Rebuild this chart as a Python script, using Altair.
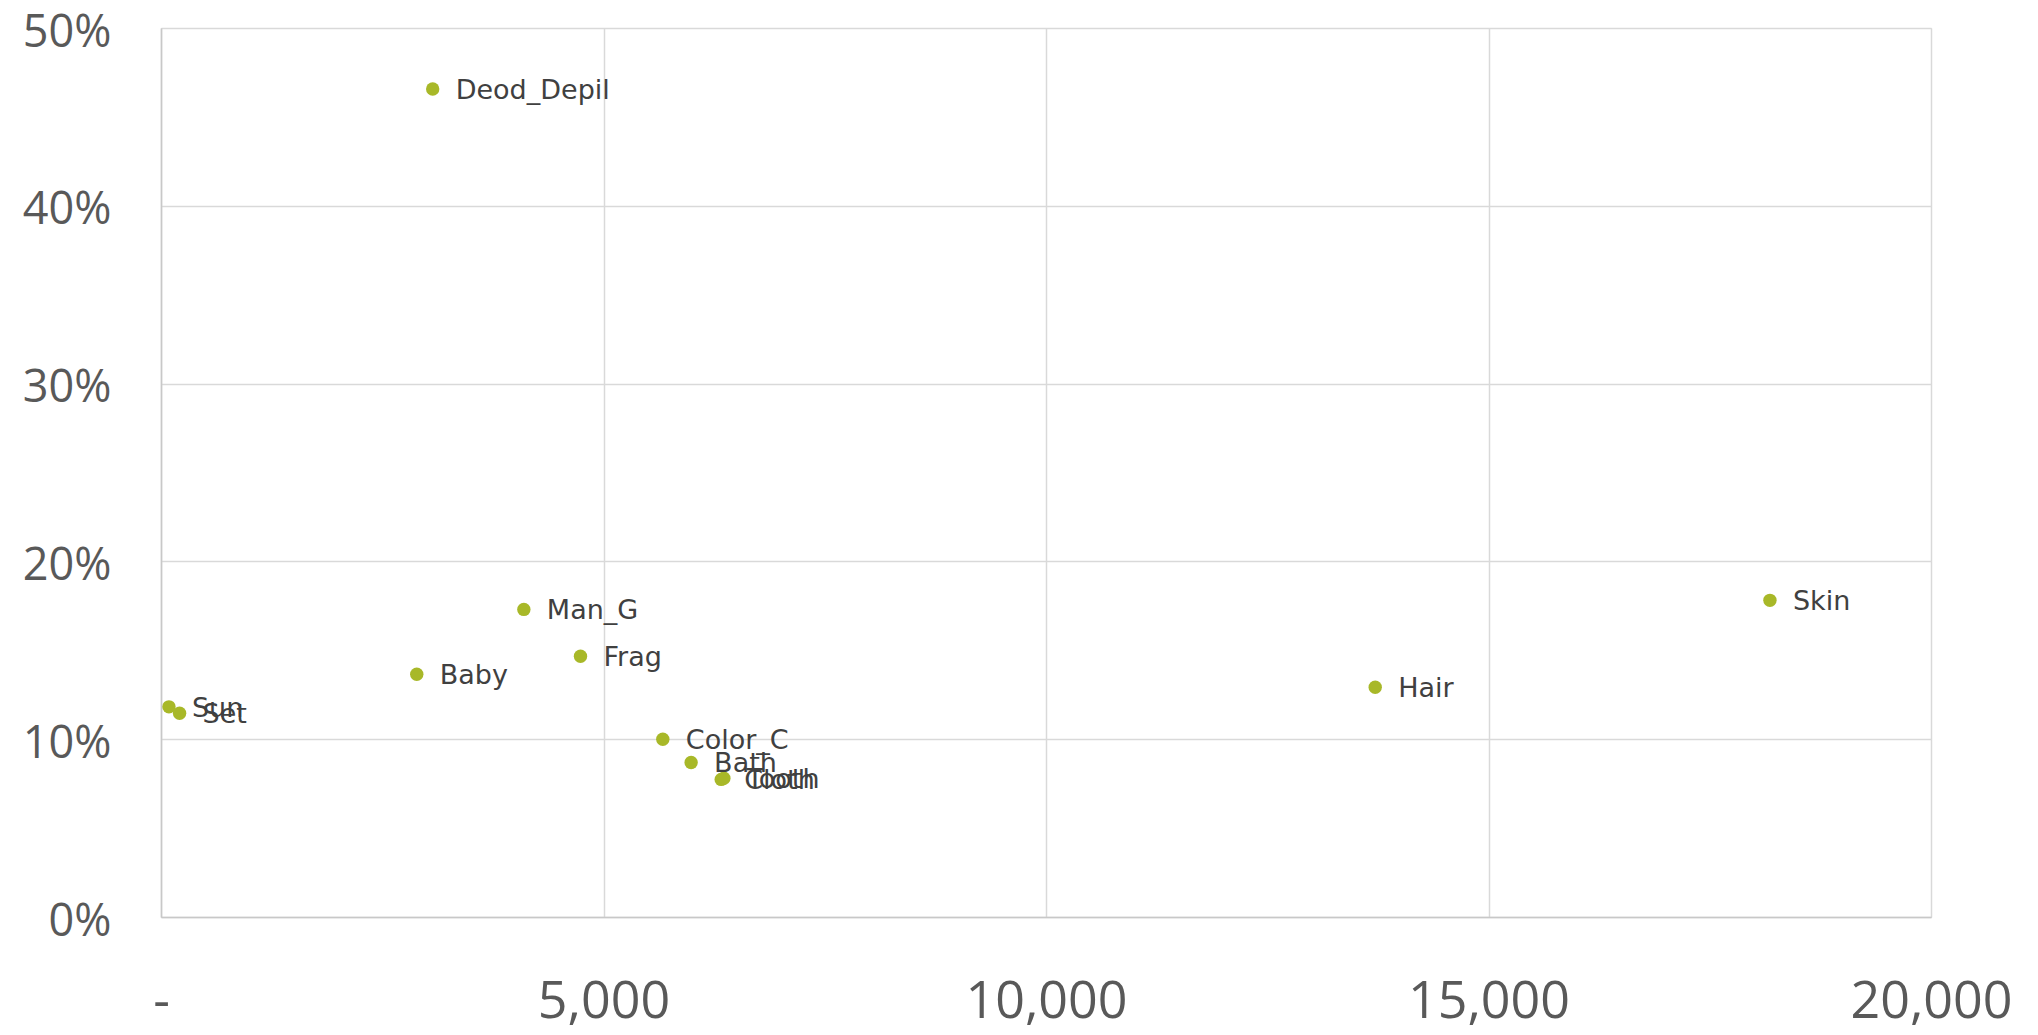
import altair as alt
import pandas as pd

# Category segments: size on x, share on y
categories = ["Deod_Depil", "Man_G", "Frag", "Baby", "Sun", "Set",
              "Color_C", "Bath", "Cloth", "Tooth", "Hair", "Skin"]
size_values = [3070, 4100, 4740, 2890, 90, 210,
               5670, 5990, 6330, 6360, 13720, 18180]
share_values = [0.4657, 0.1730, 0.1467, 0.1365, 0.1182, 0.1146,
                0.1000, 0.0869, 0.0774, 0.0781, 0.1292, 0.1781]

df = pd.DataFrame({"name": categories, "size": size_values, "share": share_values})

axis_font = "Open Sans"
grid_color = "#d9d9d9"

x_enc = alt.X(
    "size:Q",
    scale=alt.Scale(domain=[0, 20000], nice=False, zero=True),
    axis=alt.Axis(
        values=[0, 5000, 10000, 15000, 20000],
        labelExpr="datum.value == 0 ? '-' : format(datum.value, ',')",
        title=None,
        ticks=False,
        domainColor="#c8c8c8",
        domainWidth=1.5,
        gridColor=grid_color,
        gridWidth=1.5,
        labelFont=axis_font,
        labelFontSize=52,
        labelColor="#595959",
        labelPadding=59,
        labelFlush=False,
    ),
)
y_enc = alt.Y(
    "share:Q",
    scale=alt.Scale(domain=[0, 0.5], nice=False),
    axis=alt.Axis(
        values=[0, 0.1, 0.2, 0.3, 0.4, 0.5],
        format=".0%",
        title=None,
        ticks=False,
        domainColor="#c8c8c8",
        domainWidth=1.5,
        gridColor=grid_color,
        gridWidth=1.5,
        labelFont=axis_font,
        labelFontSize=45,
        labelColor="#595959",
        labelPadding=50,
        labelFlush=False,
        labelBaseline="middle",
        labelOffset=4,
    ),
)

points = alt.Chart(df).mark_circle(size=180, opacity=1, color="#A8B828").encode(
    x=x_enc, y=y_enc
)

labels = alt.Chart(df).mark_text(
    align="left", baseline="middle", dx=23, dy=2,
    font="DejaVu Sans", fontSize=27, color="#404040"
).encode(x="size:Q", y="share:Q", text="name:N")

chart = (
    (points + labels)
    .properties(
        width=1770,
        height=889,
        autosize=alt.AutoSizeParams(type="none"),
        padding={"left": 161, "top": 28, "right": 107, "bottom": 118},
    )
    .configure_view(stroke=None)
    .configure(background="white")
)

chart.save("out.html", embed_options={"renderer": "svg", "actions": False})
